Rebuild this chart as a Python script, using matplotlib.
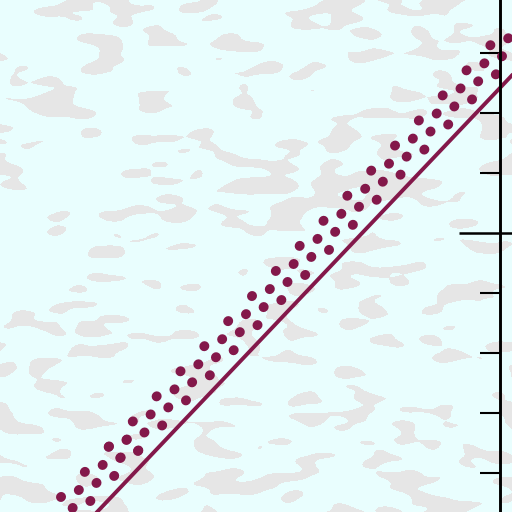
import numpy as np
import matplotlib
matplotlib.use("Agg")
import matplotlib.pyplot as plt
from matplotlib.ticker import MultipleLocator
from matplotlib.colors import ListedColormap

# ---- data (1 unit = one minor tick step) ----
line_x = [1.2, 9.0]
line_y = [-0.09, 8.12]

# four staggered dotted rows running parallel above the solid line:
# [lower end, anchor dot, upper end]
row_a_x = [-0.686, 1.814, 9.314]
row_a_y = [-1.191, 1.439, 9.330]
row_b_x = [-0.389, 2.111, 9.611]
row_b_y = [-1.075, 1.555, 9.446]
row_c_x = [-0.493, 2.008, 9.508]
row_c_y = [-1.375, 1.255, 9.146]
row_d_x = [-0.197, 2.303, 9.803]
row_d_y = [-1.258, 1.372, 9.263]

y_major_step = 5
y_minor_step = 1
x_range = (0.0, 8.5333)
y_range = (0.35, 8.8833)
spine_frac = 500 / 512

# ---- style ----
bg = "#e9fefe"
blot = "#e6e6e6"
wine = "#83184a"

plt.rcParams["lines.scale_dashes"] = False

fig = plt.figure(figsize=(5.12, 5.12), dpi=100)
fig.patch.set_facecolor(bg)
ax = fig.add_axes([0, 0, 1, 1])
ax.set_facecolor(bg)
ax.set_xlim(*x_range)
ax.set_ylim(*y_range)

# background paper texture (decoration only)
rng = np.random.default_rng(11)
noise = rng.standard_normal((512, 512))
ky = np.fft.fftfreq(512)[:, None]
kx = np.fft.fftfreq(512)[None, :]
filt = np.exp(-2 * np.pi ** 2 * ((ky * 4) ** 2 + (kx * 10) ** 2))
sm = np.real(np.fft.ifft2(np.fft.fft2(noise) * filt))
mask = (sm > np.percentile(sm, 77)).astype(float)
ax.imshow(mask, cmap=ListedColormap([bg, blot]), extent=(*x_range, *y_range),
          aspect="auto", interpolation="nearest", zorder=0)

# solid line
ax.plot(line_x, line_y, color=wine, lw=2.8, solid_capstyle="butt", zorder=3)

# dotted rows: dashes start at the anchor dot and run both ways
dot_style = dict(color=wine, lw=7.0, linestyle=(0, (0.3, 24.612)),
                 dash_capstyle="round", zorder=3)
for rx, ry in [(row_a_x, row_a_y), (row_b_x, row_b_y),
               (row_c_x, row_c_y), (row_d_x, row_d_y)]:
    ax.plot(rx[1:], ry[1:], **dot_style)
    ax.plot(rx[1::-1], ry[1::-1], **dot_style)

# axis: only the right spine, placed inside the figure
for s in ["left", "top", "bottom"]:
    ax.spines[s].set_visible(False)
ax.spines["right"].set_position(("axes", spine_frac))
ax.spines["right"].set_linewidth(2.1)
ax.spines["right"].set_color("black")
ax.spines["right"].set_zorder(4)
ax.xaxis.set_visible(False)
ax.yaxis.tick_right()
ax.yaxis.set_major_locator(MultipleLocator(y_major_step))
ax.yaxis.set_minor_locator(MultipleLocator(y_minor_step))
ax.tick_params(axis="y", which="major", direction="inout", length=59,
               width=1.8, color="black", labelright=False, labelleft=False)
ax.tick_params(axis="y", which="minor", direction="in", length=14.4,
               width=1.5, color="black", labelright=False, labelleft=False)

fig.savefig("out.png", dpi=100, facecolor=bg)
